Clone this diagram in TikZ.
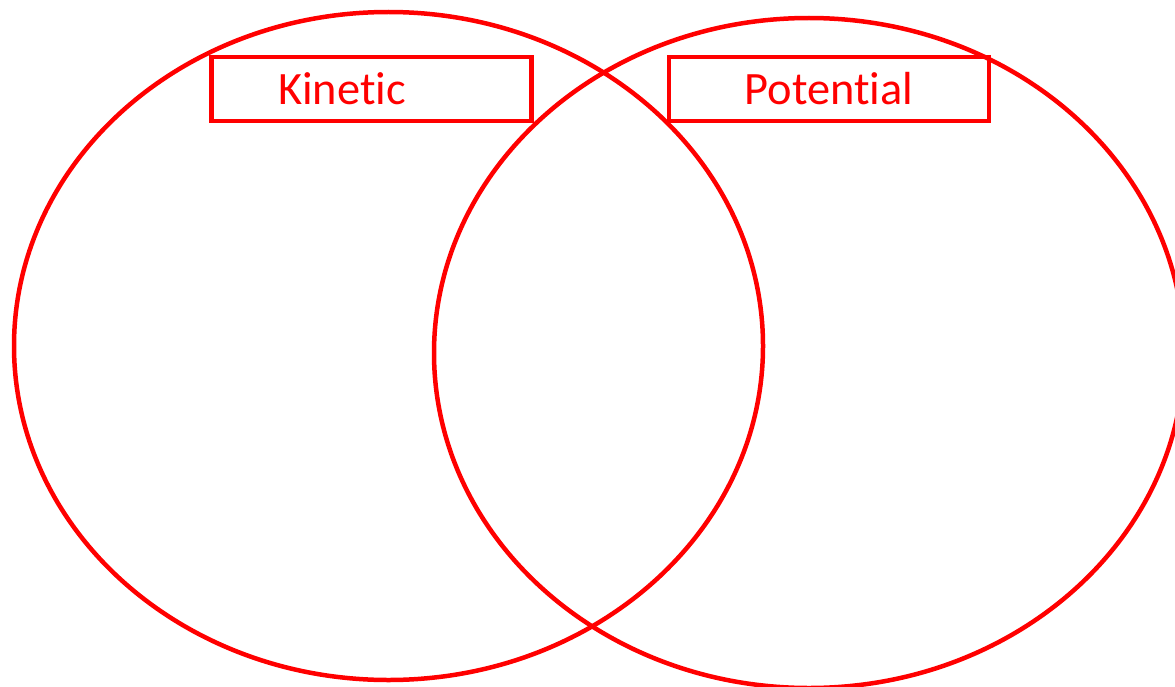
\documentclass[tikz,border=0pt]{standalone}
\usepackage{fontspec}
\setmainfont{Carlito}[Ligatures=NoCommon]
\usetikzlibrary{positioning}
\usepackage{xcolor}
\definecolor{vennred}{HTML}{FF0000}
\tikzset{
  ring/.style={draw=vennred, line width=0.09cm},
  labelbox/.style={draw=vennred, line width=0.09cm, minimum width=6.4cm, minimum height=1.28cm, inner sep=0pt},
  labeltext/.style={text=vennred, font=\fontsize{26.4}{30}\selectfont, inner sep=0pt, anchor=base}
}

\begin{document}
\begin{tikzpicture}[x=0.02cm, y=-0.02cm]
  \useasboundingbox (0,0) rectangle (1175,686);
  \clip (0,0) rectangle (1175,686);
  % the two overlapping sets
  \draw[ring] (388.5,346) ellipse [x radius=374.5, y radius=334];
  \draw[ring] (809,353) ellipse [x radius=375, y radius=335];
  % headings
  \node[labelbox] (kinbox) at (371.5,89) {};
  \node[labelbox] (potbox) at (829,89) {};
  \node[labeltext] (kin) at (342,105) {Kinetic};
  \node[labeltext] (pot) at (829,105) {Potential};
\end{tikzpicture}
\end{document}
